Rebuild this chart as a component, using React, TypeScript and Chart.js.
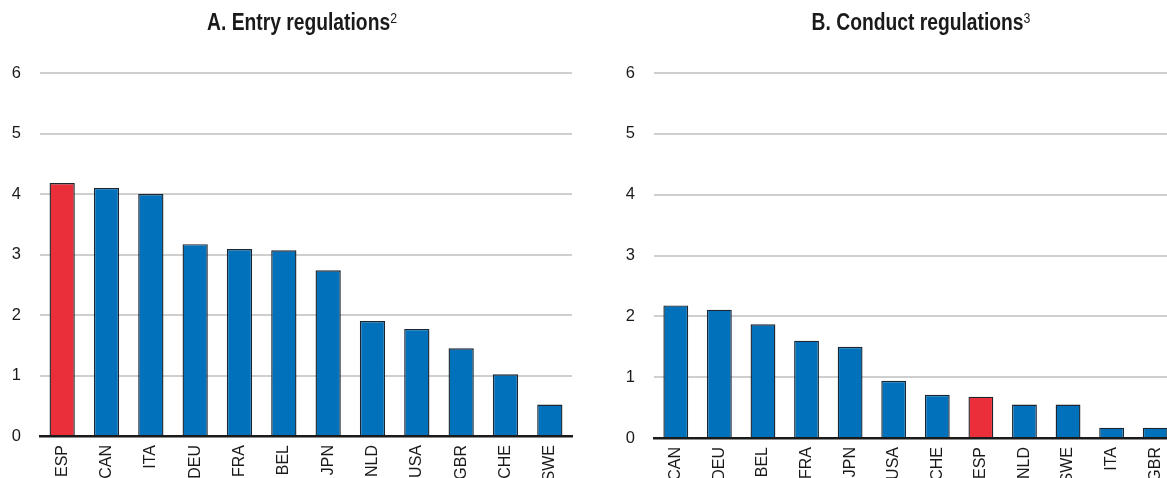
import React, { useEffect, useRef } from "react";
import { Chart, registerables } from "chart.js";

Chart.register(...registerables);

const entryCountries = ["ESP", "CAN", "ITA", "DEU", "FRA", "BEL", "JPN", "NLD", "USA", "GBR", "CHE", "SWE"];
const entryValues = [4.18, 4.1, 4.0, 3.17, 3.09, 3.07, 2.74, 1.9, 1.77, 1.45, 1.02, 0.52];

const conductCountries = ["CAN", "DEU", "BEL", "FRA", "JPN", "USA", "CHE", "ESP", "NLD", "SWE", "ITA", "GBR"];
const conductValues = [2.18, 2.11, 1.87, 1.6, 1.5, 0.94, 0.71, 0.68, 0.55, 0.55, 0.17, 0.17];

const yTicks = [0, 1, 2, 3, 4, 5, 6];
const highlight = "ESP";

const BLUE = "#0071BA";
const RED = "#EA2E3A";
const FONT = "'Liberation Sans', Arial, sans-serif";

type PanelProps = {
  labels: string[];
  values: number[];
  width: number;
  height: number;
  padRight: number;
  xAxisHeight: number;
};

function BarPanel({ labels, values, width, height, padRight, xAxisHeight }: PanelProps) {
  const ref = useRef<HTMLCanvasElement | null>(null);
  useEffect(() => {
    if (!ref.current) return;
    const chart = new Chart(ref.current, {
      type: "bar",
      data: {
        labels,
        datasets: [
          {
            data: values,
            backgroundColor: labels.map((l) => (l === highlight ? RED : BLUE)),
            borderColor: "#1c2630",
            borderWidth: 1.4,
            categoryPercentage: 1,
            barPercentage: 0.57,
          },
        ],
      },
      options: {
        responsive: false,
        animation: false,
        devicePixelRatio: 1,
        layout: { padding: { top: 73, right: padRight, left: 0, bottom: 0 } },
        plugins: { legend: { display: false }, tooltip: { enabled: false }, title: { display: false } },
        scales: {
          x: {
            grid: { display: false },
            border: { display: true, color: "#1a1a1a", width: 2.5 },
            ticks: {
              color: "#1a1a1a",
              font: { family: FONT, size: 16 },
              minRotation: 90,
              maxRotation: 90,
              padding: 1,
              autoSkip: false,
            },
            afterFit: (scale: any) => {
              scale.height = xAxisHeight;
            },
          },
          y: {
            min: 0,
            max: 6,
            afterBuildTicks: (scale: any) => {
              scale.ticks = yTicks.map((v) => ({ value: v }));
            },
            grid: {
              color: (ctx: any) => (ctx.tick && ctx.tick.value === 0 ? "rgba(0,0,0,0)" : "#cfcfcf"),
              lineWidth: 2,
              drawTicks: false,
            },
            border: { display: false },
            ticks: {
              color: "#1a1a1a",
              font: { family: FONT, size: 16.5 },
              padding: 19,
            },
            afterFit: (scale: any) => {
              scale.width = 40;
            },
          },
        },
      },
    });
    return () => chart.destroy();
  }, [labels, values]);
  return <canvas ref={ref} width={width} height={height} style={{ width, height, display: "block" }} />;
}

const titleStyle: React.CSSProperties = {
  position: "absolute",
  top: 9,
  fontFamily: FONT,
  fontWeight: "bold",
  fontSize: 23.5,
  color: "#1a1a1a",
  whiteSpace: "nowrap",
  transform: "translateX(-50%) scaleX(0.82)",
  lineHeight: "26px",
};

const supStyle: React.CSSProperties = {
  fontWeight: "normal",
  fontSize: 15,
  verticalAlign: "7px",
  lineHeight: 0,
};

export default function App() {
  return (
    <div
      style={{
        position: "fixed",
        left: 0,
        top: 0,
        width: 1167,
        height: 478,
        overflow: "hidden",
        background: "#fff",
      }}
    >
      <div style={{ position: "absolute", left: 0, top: 0 }}>
        <BarPanel labels={entryCountries} values={entryValues} width={590} height={520} padRight={18} xAxisHeight={84} />
      </div>
      <div style={{ position: "absolute", left: 614, top: 0 }}>
        <BarPanel labels={conductCountries} values={conductValues} width={570} height={520} padRight={7} xAxisHeight={82} />
      </div>
      <div style={{ ...titleStyle, left: 302 }}>
        A. Entry regulations<span style={supStyle}>2</span>
      </div>
      <div style={{ ...titleStyle, left: 921 }}>
        B. Conduct regulations<span style={supStyle}>3</span>
      </div>
    </div>
  );
}
